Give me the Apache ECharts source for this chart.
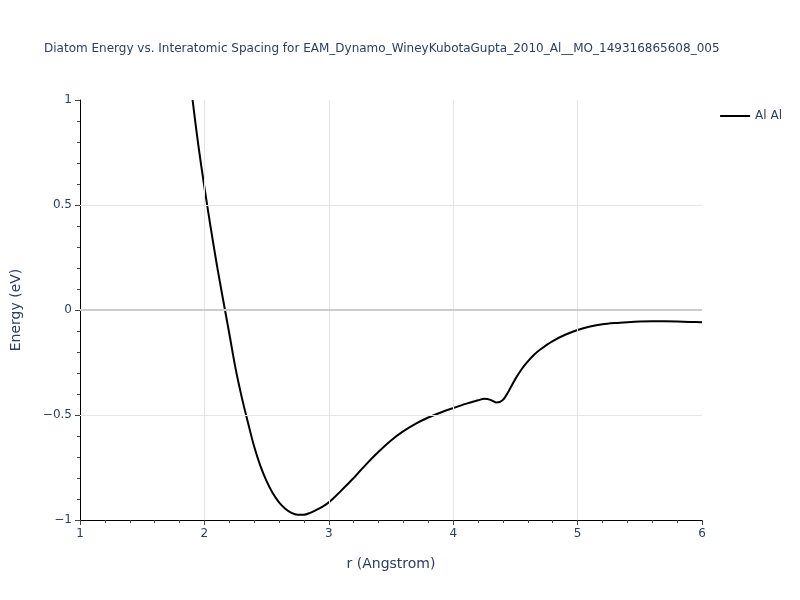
<!DOCTYPE html>
<html>
<head>
<meta charset="utf-8">
<script src="https://cdn.jsdelivr.net/npm/echarts@6/dist/echarts.min.js"></script>
<style>html,body{margin:0;padding:0;background:#fff}#c{width:800px;height:600px}</style>
</head>
<body>
<div id="c"></div>
<script>
const titleText = "Diatom Energy vs. Interatomic Spacing for EAM_Dynamo_WineyKubotaGupta_2010_Al__MO_149316865608_005";
const seriesName = "Al Al";
const rValues = [1.905, 1.95, 2.0, 2.05, 2.1, 2.15, 2.2, 2.25, 2.3, 2.35, 2.4, 2.45, 2.5, 2.55, 2.6, 2.65, 2.7, 2.75, 2.8, 2.85, 2.9, 2.95, 3.0, 3.05, 3.1, 3.2, 3.3, 3.4, 3.5, 3.6, 3.7, 3.8, 3.9, 4.0, 4.1, 4.2, 4.25, 4.3, 4.35, 4.4, 4.45, 4.5, 4.55, 4.6, 4.65, 4.7, 4.8, 4.9, 5.0, 5.1, 5.2, 5.3, 5.4, 5.5, 5.6, 5.7, 5.8, 5.9, 6.0];
const energyValues = [1.0, 0.79, 0.585, 0.395, 0.215, 0.05, -0.112, -0.277, -0.415, -0.536, -0.65, -0.742, -0.815, -0.873, -0.916, -0.946, -0.966, -0.975, -0.975, -0.966, -0.952, -0.936, -0.916, -0.889, -0.86, -0.80, -0.735, -0.675, -0.621, -0.577, -0.541, -0.512, -0.488, -0.467, -0.447, -0.43, -0.423, -0.428, -0.441, -0.428, -0.382, -0.328, -0.282, -0.245, -0.213, -0.188, -0.148, -0.118, -0.095, -0.079, -0.068, -0.062, -0.058, -0.055, -0.054, -0.054, -0.055, -0.057, -0.058];
const xTicks = [1, 2, 3, 4, 5, 6];
const yTicks = [-1, -0.5, 0, 0.5, 1];
const xGrid = [2, 3, 4, 5];
const yGrid = [-0.5, 0.5];

const txt = '#2a3f5f';
const fam = '"DejaVu Sans", "Open Sans", sans-serif';
const chart = echarts.init(document.getElementById('c'), null, {renderer: 'canvas'});
const minus = v => String(v).replace('-', '\u2212');
const gridLine = {color: '#e5e5e5', width: 1, type: 'solid'};
chart.setOption({
  animation: false,
  backgroundColor: '#fff',
  title: {
    text: titleText, left: 39, top: 38,
    textStyle: {fontFamily: fam, fontSize: 12, fontWeight: 'normal', color: txt}
  },
  legend: {
    data: [seriesName], right: 13, top: 105, orient: 'vertical',
    itemWidth: 30, itemHeight: 2, icon: 'rect', itemGap: 6,
    textStyle: {fontFamily: fam, fontSize: 12, color: txt}
  },
  grid: {left: 80, right: 98, top: 100, bottom: 80},
  xAxis: {
    type: 'value', min: xTicks[0], max: xTicks[xTicks.length - 1], interval: 1,
    name: 'r (Angstrom)', nameLocation: 'middle', nameGap: 37,
    nameTextStyle: {fontFamily: fam, fontSize: 14, color: txt},
    axisLine: {show: true, onZero: false, lineStyle: {color: '#000', width: 1}},
    axisTick: {show: true, length: 5, lineStyle: {color: '#444'}},
    minorTick: {show: true, splitNumber: 5, length: 3, lineStyle: {color: '#444'}},
    axisLabel: {fontFamily: fam, fontSize: 12, color: txt, margin: 8, formatter: minus},
    splitLine: {show: false}
  },
  yAxis: {
    type: 'value', min: yTicks[0], max: yTicks[yTicks.length - 1], interval: 0.5,
    name: 'Energy (eV)', nameLocation: 'middle', nameGap: 57,
    nameTextStyle: {fontFamily: fam, fontSize: 14, color: txt},
    axisLine: {show: true, onZero: false, lineStyle: {color: '#000', width: 1}},
    axisTick: {show: true, length: 5, lineStyle: {color: '#444'}},
    minorTick: {show: true, splitNumber: 5, length: 3, lineStyle: {color: '#444'}},
    axisLabel: {fontFamily: fam, fontSize: 12, color: txt, margin: 8, formatter: minus},
    splitLine: {show: false}
  },
  series: [{
    name: 'grid', type: 'line', data: [], silent: true, z: 0,
    markLine: {
      silent: true, symbol: 'none', label: {show: false}, animation: false,
      data: [
        ...xGrid.map(v => ({xAxis: v, lineStyle: gridLine})),
        ...yGrid.map(v => ({yAxis: v, lineStyle: gridLine})),
        {yAxis: 0, lineStyle: {color: '#cccccc', width: 2, type: 'solid'}}
      ]
    }
  }, {
    name: seriesName, type: 'line', smooth: 0.3, showSymbol: false, z: 3,
    data: rValues.map((r, i) => [r, energyValues[i]]),
    lineStyle: {color: '#000', width: 2}, itemStyle: {color: '#000'},
    clip: true
  }]
});
</script>
</body>
</html>
